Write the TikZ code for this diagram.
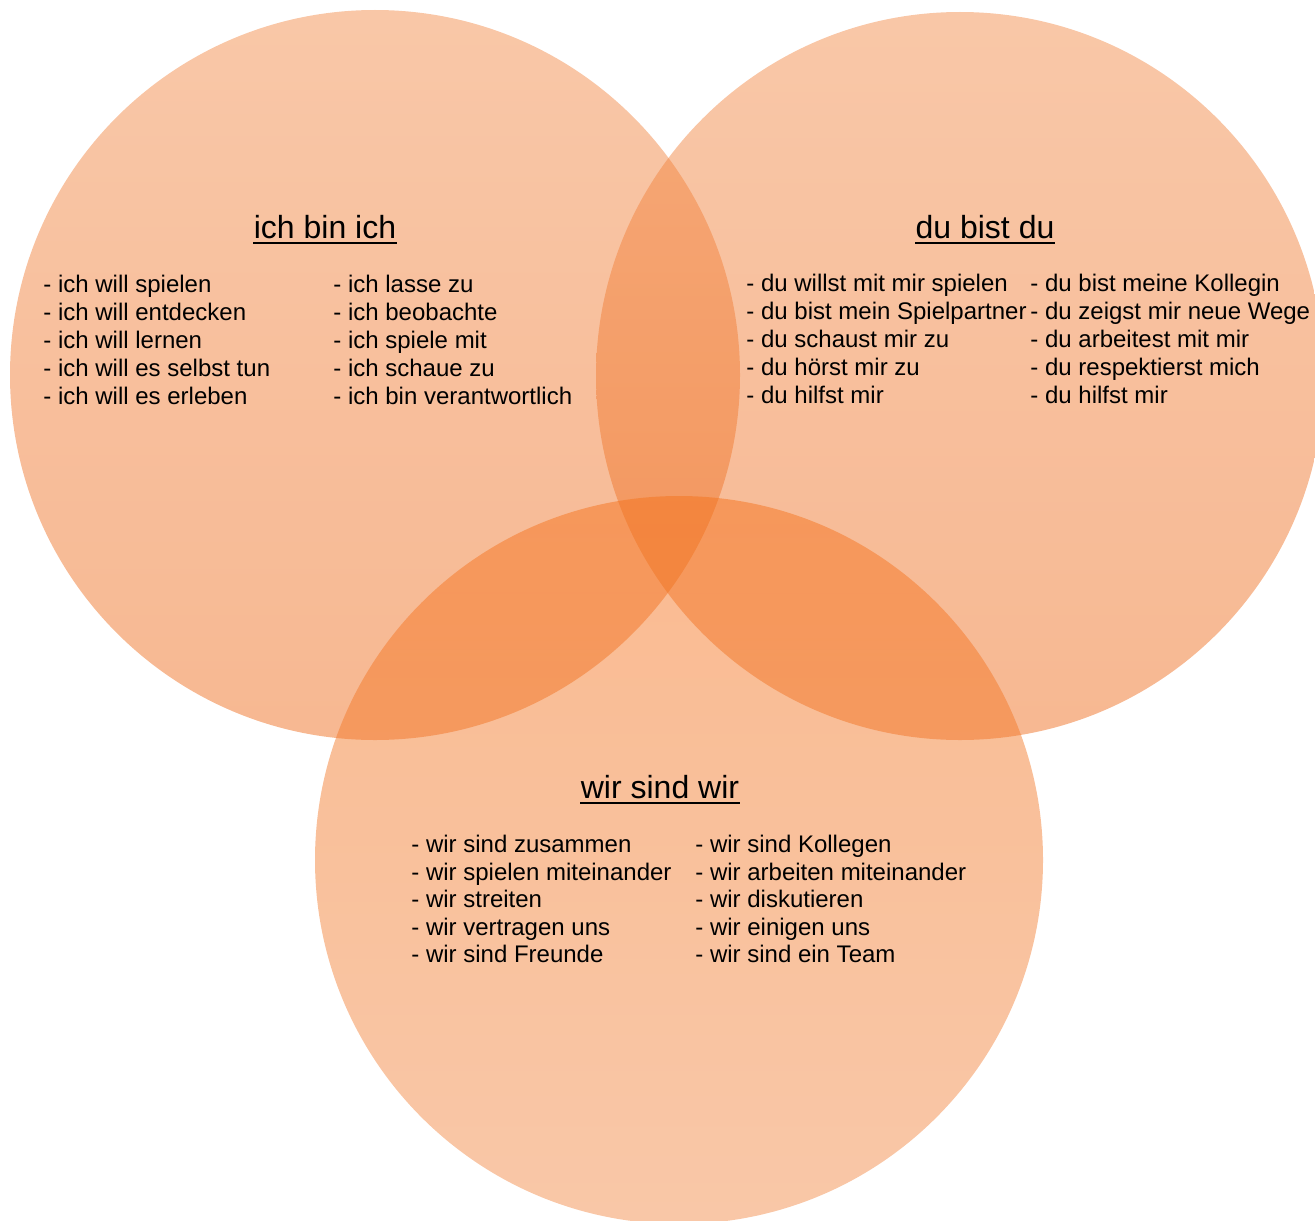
\documentclass[tikz,border=0pt]{standalone}
\usepackage{fontspec}
\setmainfont{Liberation Sans}
\usepackage{tikz}

\definecolor{vennlight}{RGB}{242,138,72}
\definecolor{venndark}{RGB}{238,106,26}
\definecolor{vennmid}{RGB}{244,112,24}

\begin{document}
\begin{tikzpicture}[x=0.5pt, y=-0.5pt,
    venn/.style={fill opacity=0.48},
    title/.style={anchor=base, inner xsep=0pt, font=\fontsize{16}{19}\selectfont},
    item/.style={anchor=base west, inner sep=0pt, font=\fontsize{12}{14}\selectfont},
    uline/.style={line width=1.1pt}]
  \useasboundingbox (0,0) rectangle (1315,1220);

  % the three circles
  \shade[venn, top color=vennlight, bottom color=venndark] (375,375) circle [radius=182.5pt];
  \shade[venn, top color=vennlight, bottom color=venndark] (960,376) circle [radius=182pt];
  \shade[venn, top color=vennmid, bottom color=vennlight] (679,860) circle [radius=182pt];

  % ich bin ich
  \node[title] (ich) at (325,238) {ich bin ich};
  \draw[uline] ([yshift=-2.6pt]ich.base west) -- ([yshift=-2.6pt]ich.base east);
  \foreach \t [count=\i] in {ich will spielen, ich will entdecken, ich will lernen,
      ich will es selbst tun, ich will es erleben}
    \node[item] (ich-a\i) at (43,{264+28*\i}) {- \t};
  \foreach \t [count=\i] in {ich lasse zu, ich beobachte, ich spiele mit,
      ich schaue zu, ich bin verantwortlich}
    \node[item] (ich-b\i) at (333,{264+28*\i}) {- \t};

  % du bist du
  \node[title] (du) at (985,238) {du bist du};
  \draw[uline] ([yshift=-2.6pt]du.base west) -- ([yshift=-2.6pt]du.base east);
  \foreach \t [count=\i] in {du willst mit mir spielen, du bist mein Spielpartner,
      du schaust mir zu, du hörst mir zu, du hilfst mir}
    \node[item] (du-a\i) at (746,{264+27.8*\i}) {- \t};
  \foreach \t [count=\i] in {du bist meine Kollegin, du zeigst mir neue Wege,
      du arbeitest mit mir, du respektierst mich, du hilfst mir}
    \node[item] (du-b\i) at (1030,{264+27.8*\i}) {- \t};

  % wir sind wir
  \node[title] (wir) at (660,798) {wir sind wir};
  \draw[uline] ([yshift=-2.6pt]wir.base west) -- ([yshift=-2.6pt]wir.base east);
  \foreach \t [count=\i] in {wir sind zusammen, wir spielen miteinander, wir streiten,
      wir vertragen uns, wir sind Freunde}
    \node[item] (wir-a\i) at (411,{825+27.5*\i}) {- \t};
  \foreach \t [count=\i] in {wir sind Kollegen, wir arbeiten miteinander, wir diskutieren,
      wir einigen uns, wir sind ein Team}
    \node[item] (wir-b\i) at (695,{825+27.5*\i}) {- \t};
\end{tikzpicture}
\end{document}
